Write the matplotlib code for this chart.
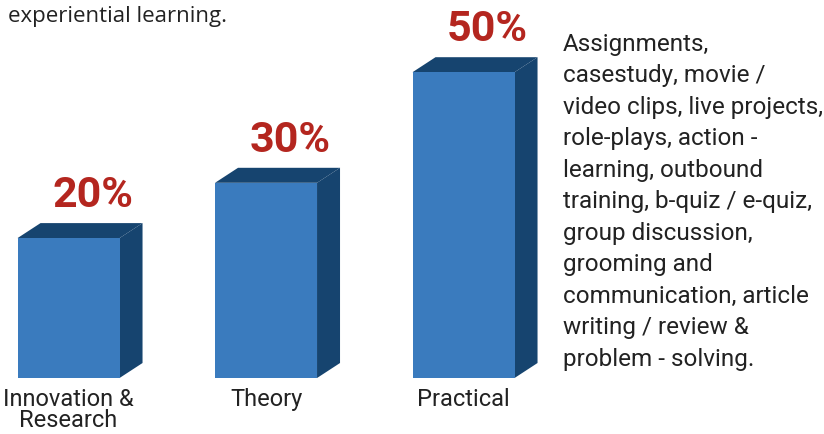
import matplotlib
matplotlib.use("Agg")
import matplotlib.pyplot as plt
from matplotlib.patches import Polygon

categories = ["Innovation &\nResearch", "Theory", "Practical"]
values = [20, 30, 50]
value_labels = ["20%", "30%", "50%"]
header_text = "experiential learning."
side_text = ("Assignments,\ncasestudy, movie /\nvideo clips, live projects,\n"
             "role-plays, action -\nlearning, outbound\ntraining, b-quiz / e-quiz,\n"
             "group discussion,\ngrooming and\ncommunication, article\n"
             "writing / review &\nproblem - solving.")

FRONT = "#3a7bbe"
DARK = "#16446f"
RED = "#b4261f"
TXT = "#222222"

W, H, DPI = 824, 434, 100
fig = plt.figure(figsize=(W / DPI, H / DPI), dpi=DPI)
ax = fig.add_axes([0, 0, 1, 1])
ax.set_xlim(-0.347, -0.347 + W / 197.5)
floor = -5.3
ax.set_ylim((348.7 - 434) / 5.53, 348.7 / 5.53)
ax.axis("off")

bar_w = 102 / 197.5
xs = list(range(len(values)))
heights = [v - floor for v in values]
ax.bar(xs, heights, width=bar_w, bottom=floor, color=FRONT, linewidth=0, zorder=3)

# depth of the 3D effect (pixels -> data)
inv = ax.transData.inverted()
p0 = ax.transData.transform((0, 0))
d = inv.transform((p0[0] + 23, p0[1] + 15))
ddx, ddy = d[0], d[1]

for x, v in zip(xs, values):
    l, r = x - bar_w / 2, x + bar_w / 2
    top = Polygon([(l, v), (l + ddx, v + ddy), (r + ddx, v + ddy), (r, v)],
                  closed=True, facecolor=DARK, edgecolor="none", zorder=2)
    side = Polygon([(r, v), (r + ddx, v + ddy), (r + ddx, floor + ddy), (r, floor)],
                   closed=True, facecolor=DARK, edgecolor="none", zorder=2)
    ax.add_patch(top)
    ax.add_patch(side)

for x, v, lab in zip(xs, values, value_labels):
    ax.annotate(lab, xy=(x, v), xytext=(24, 22), textcoords="offset pixels",
                ha="center", va="bottom", fontsize=31, fontweight="bold",
                color=RED, family="Roboto")

for x, c in zip(xs, categories):
    ax.annotate(c, xy=(x, floor), xytext=(0, -10), textcoords="offset pixels",
                ha="center", va="top", fontsize=17, color=TXT, family="Roboto",
                linespacing=0.9, multialignment="center")

fig.text(8 / W, 1 - 22 / H, header_text, ha="left", va="baseline",
         fontsize=16, color=TXT, family="Open Sans")

fig.text(563 / W, 1 - 33 / H, side_text, ha="left", va="top",
         fontsize=17.5, color=TXT, family="Roboto", linespacing=1.47)

fig.savefig("out.png", dpi=DPI)
